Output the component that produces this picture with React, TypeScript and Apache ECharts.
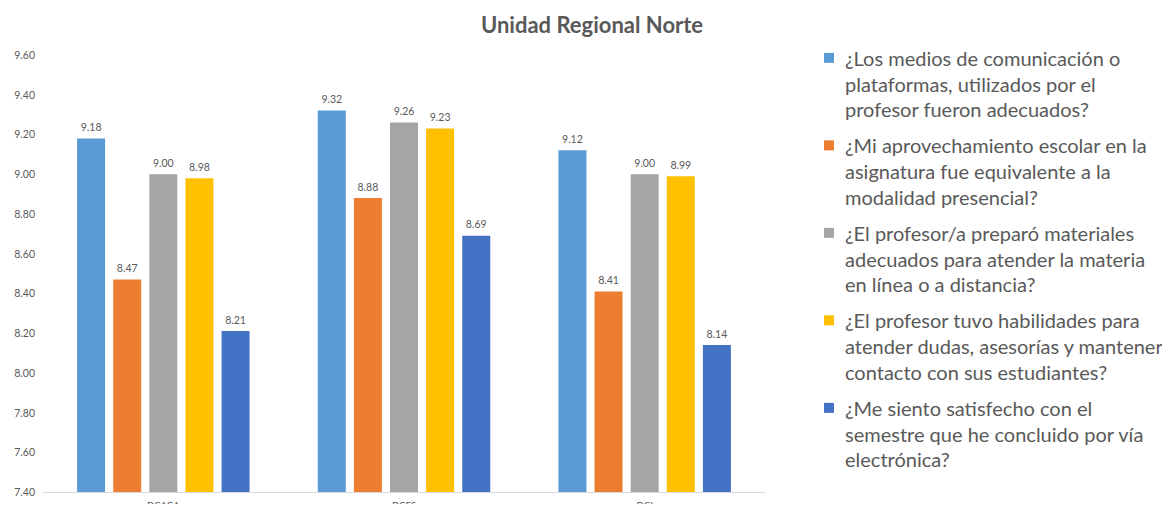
import React, { useEffect, useRef } from "react";
import * as echarts from "echarts";

// Categories (academic divisions) and mean scores per question
const categories = ["DCACA", "DCES", "DCI"];

const questionLines: string[][] = [
  ["¿Los medios de comunicación o", "plataformas, utilizados por el", "profesor fueron adecuados?"],
  ["¿Mi aprovechamiento escolar en la", "asignatura fue equivalente a la", "modalidad presencial?"],
  ["¿El profesor/a preparó materiales", "adecuados para atender la materia", "en línea o a distancia?"],
  ["¿El profesor tuvo habilidades para", "atender dudas, asesorías y mantener", "contacto con sus estudiantes?"],
  ["¿Me siento satisfecho con el", "semestre que he concluido por vía", "electrónica?"],
];

const mediosValues = [9.18, 9.32, 9.12];
const aprovechamientoValues = [8.47, 8.88, 8.41];
const materialesValues = [9.0, 9.26, 9.0];
const habilidadesValues = [8.98, 9.23, 8.99];
const satisfechoValues = [8.21, 8.69, 8.14];

const seriesValues = [
  mediosValues,
  aprovechamientoValues,
  materialesValues,
  habilidadesValues,
  satisfechoValues,
];

const colors = ["#5B9BD5", "#ED7D31", "#A5A5A5", "#FFC000", "#4472C4"];

const yMin = 7.4;
const yMax = 9.6;
const yStep = 0.2;

const FONT = "Lato, 'Open Sans', sans-serif";
const TEXT_COLOR = "#595959";

export default function App() {
  const ref = useRef<HTMLDivElement>(null);

  useEffect(() => {
    if (!ref.current) return;
    const chart = echarts.init(ref.current, null, { renderer: "svg" });

    const legendTop = 37;
    const legendStep = 87.5;
    const lineH = 25.7;

    const legendGraphics: any[] = [];
    questionLines.forEach((lines, i) => {
      const top = legendTop + i * legendStep;
      legendGraphics.push({
        type: "rect",
        left: 816,
        top: top + lineH / 2 - 5,
        shape: { x: 0, y: 0, width: 10, height: 10 },
        style: { fill: colors[i] },
      });
      legendGraphics.push({
        type: "text",
        left: 837,
        top: top,
        style: {
          text: lines.join("\n"),
          fontFamily: FONT,
          fontSize: 20,
          lineHeight: lineH,
          fill: TEXT_COLOR,
        },
      });
    });

    chart.setOption({
      animation: false,
      textStyle: { fontFamily: FONT },
      title: {
        text: "Unidad Regional Norte",
        left: 579,
        top: 0,
        textAlign: "center",
        textStyle: {
          fontFamily: FONT,
          fontSize: 22,
          fontWeight: "bold",
          color: TEXT_COLOR,
        },
      },
      grid: {
        left: 35,
        right: 397,
        top: 47,
        bottom: 20,
        containLabel: false,
        outerBoundsMode: "none",
      },
      xAxis: {
        type: "category",
        data: categories,
        axisLine: { show: true, lineStyle: { color: "#D9D9D9", width: 1 } },
        axisTick: { show: false },
        axisLabel: { color: TEXT_COLOR, fontSize: 9.5, margin: 8 },
      },
      yAxis: {
        type: "value",
        min: yMin,
        max: yMax,
        interval: yStep,
        splitLine: { show: false },
        axisLine: { show: false },
        axisTick: { show: false },
        axisLabel: {
          color: TEXT_COLOR,
          fontSize: 10.5,
          margin: 8,
          formatter: (v: number) => v.toFixed(2),
        },
      },
      series: seriesValues.map((vals, i) => ({
        name: questionLines[i].join(" "),
        type: "bar",
        data: vals,
        barWidth: 28,
        barGap: "29%",
        itemStyle: { color: colors[i] },
        label: {
          show: true,
          position: "top",
          distance: 6,
          color: TEXT_COLOR,
          fontSize: 10.5,
          formatter: (p: any) => Number(p.value).toFixed(2),
        },
      })),
      graphic: legendGraphics,
    });

    return () => chart.dispose();
  }, []);

  return (
    <div
      ref={ref}
      style={{ width: 1154, height: 504, marginBottom: -8 }}
    />
  );
}
